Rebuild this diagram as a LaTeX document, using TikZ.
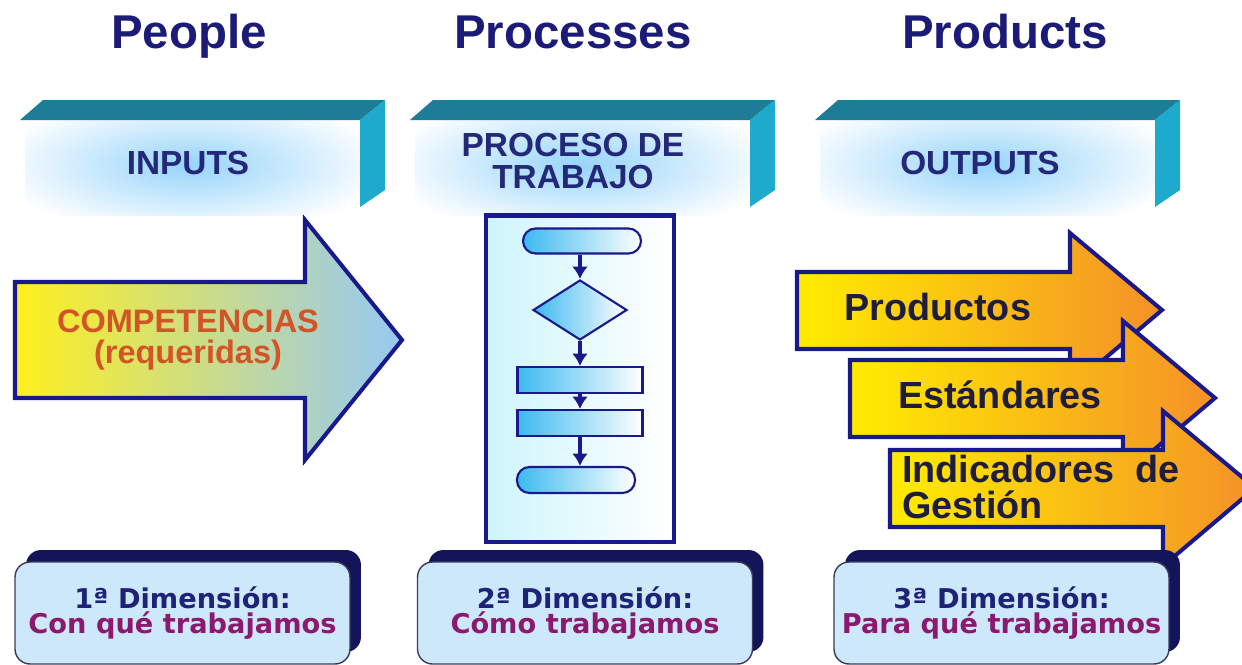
\documentclass[tikz,border=0pt]{standalone}
\usepackage{fontspec}
\setmainfont{Liberation Sans}
\newfontfamily\dejavu{DejaVu Sans}
\usetikzlibrary{shapes.geometric,arrows.meta,shadows}

\definecolor{titlenavy}{RGB}{28,28,120}
\definecolor{bannernavy}{RGB}{35,40,120}
\definecolor{bartop}{RGB}{30,125,150}
\definecolor{barside}{RGB}{30,170,205}
\definecolor{glow}{RGB}{150,212,250}
\definecolor{linenavy}{RGB}{25,25,140}
\definecolor{inyellow}{RGB}{255,240,30}
\definecolor{inblue}{RGB}{150,200,245}
\definecolor{outyellow}{RGB}{255,236,0}
\definecolor{outorange}{RGB}{245,145,40}
\definecolor{comptext}{RGB}{210,85,40}
\definecolor{outtext}{RGB}{30,30,60}
\definecolor{flowbg}{RGB}{205,245,252}
\definecolor{flowcyan}{RGB}{60,185,240}
\definecolor{boxfill}{RGB}{205,232,250}
\definecolor{boxedge}{RGB}{60,60,90}
\definecolor{shadownavy}{RGB}{20,20,90}
\definecolor{dimnavy}{RGB}{30,35,120}
\definecolor{dimpurple}{RGB}{140,25,110}

\tikzset{arrow/.style={-{Latex[length=7pt,width=9pt]}, line width=2.4pt, draw=linenavy}}
\tikzset{title/.style={font=\fontsize{27}{30}\selectfont\bfseries, text=titlenavy, anchor=base}}
\tikzset{bannertext/.style={font=\fontsize{19}{18.7}\selectfont\bfseries, text=bannernavy, align=center}}
\tikzset{bigarrow/.style={draw=linenavy, line width=2.3pt, line join=miter}}
\tikzset{outlabel/.style={font=\fontsize{21.5}{21}\selectfont\bfseries, text=outtext, anchor=base west}}
\tikzset{flowshape/.style={draw=linenavy, line width=1.2pt, left color=flowcyan, right color=white, inner sep=0pt}}
\tikzset{dimbox/.style={draw=boxedge, line width=0.8pt, fill=boxfill, rounded corners=0.3cm,
    minimum width=6.7cm, minimum height=2.04cm, align=center, text=dimnavy,
    font=\dejavu\bfseries\fontsize{15.5}{14.2}\selectfont,
    drop shadow={shadow xshift=0.22cm, shadow yshift=0.24cm, fill=shadownavy, opacity=1}}}

\newcommand{\outarrow}[2]{%
  \path[bigarrow, left color=outyellow, right color=outorange]
    (#1,#2) -- (#1+273,#2) -- (#1+273,#2-39) -- (#1+365,#2+38)
    -- (#1+273,#2+116) -- (#1+273,#2+77) -- (#1,#2+77) -- cycle;}

\begin{document}
\begin{tikzpicture}[x=0.02cm, y=-0.02cm]
  \useasboundingbox (0,0) rectangle (1242,664);
  \fill[white] (0,0) rectangle (1242,664);

  % headings
  \node[title] (people) at (189,48) {People};
  \node[title] (processes) at (573,48) {Processes};
  \node[title] (products) at (1005,48) {Products};

  % banners
  \foreach \x in {20,410,815} {
    \begin{scope}
      \clip (\x+5,120) rectangle (\x+340,215);
      \shade[inner color=glow, outer color=white] (\x-30,95) rectangle (\x+370,235);
    \end{scope}
    \fill[bartop] (\x,120) -- (\x+23,100) -- (\x+365,100) -- (\x+340,120) -- cycle;
    \fill[barside] (\x+340,120) -- (\x+365,100) -- (\x+365,190) -- (\x+340,207) -- cycle;
  }
  \node[bannertext] (inputs) at (188,163) {INPUTS};
  \node[bannertext] (proceso) at (573,161) {PROCESO DE\\TRABAJO};
  \node[bannertext] (outputs) at (980,163) {OUTPUTS};

  % inputs arrow
  \path[bigarrow, left color=inyellow, right color=inblue]
    (15,282) -- (305,282) -- (305,220) -- (402,340) -- (305,460) -- (305,398) -- (15,398) -- cycle;
  \node[font=\fontsize{18.5}{18}\selectfont\bfseries, text=comptext, align=center] (comp) at (188,340)
    {COMPETENCIAS\\(requeridas)};

  % flowchart
  \node[draw=linenavy, line width=2.8pt, left color=flowbg, right color=white,
        minimum width=3.76cm, minimum height=6.54cm] (flow) at (580,378.5) {};
  \node[flowshape, rounded corners=0.25cm, minimum width=2.36cm, minimum height=0.5cm] (t1) at (582,241) {};
  \node[flowshape, diamond, minimum width=1.88cm, minimum height=1.2cm] (dm) at (580,310) {};
  \node[flowshape, minimum width=2.5cm, minimum height=0.52cm] (r1) at (580,380) {};
  \node[flowshape, minimum width=2.5cm, minimum height=0.52cm] (r2) at (580,423) {};
  \node[flowshape, rounded corners=0.25cm, minimum width=2.36cm, minimum height=0.52cm] (t2) at (576,480) {};
  \draw[arrow] (dm |- t1.south) -- (dm);
  \draw[arrow] (dm) -- (r1);
  \draw[arrow] (r1) -- (r2);
  \draw[arrow] (r2) -- (r2 |- t2.north);

  % outputs arrows
  \outarrow{797}{272}
  \node[outlabel] (prod) at (838,320) {Productos};
  \outarrow{850}{360}
  \node[outlabel] (est) at (892,408) {Estándares};
  \outarrow{890}{450}
  \node[outlabel, anchor=west, align=left] (ind) at (896,487) {Indicadores\ \ de\\Gestión};

  % dimensions
  \node[dimbox] (dim1) at (182.5,613) {1ª Dimensión:\\\textcolor{dimpurple}{Con qué trabajamos}};
  \node[dimbox] (dim2) at (585,613) {2ª Dimensión:\\\textcolor{dimpurple}{Cómo trabajamos}};
  \node[dimbox] (dim3) at (1001.5,613) {3ª Dimensión:\\\textcolor{dimpurple}{Para qué trabajamos}};
\end{tikzpicture}
\end{document}
